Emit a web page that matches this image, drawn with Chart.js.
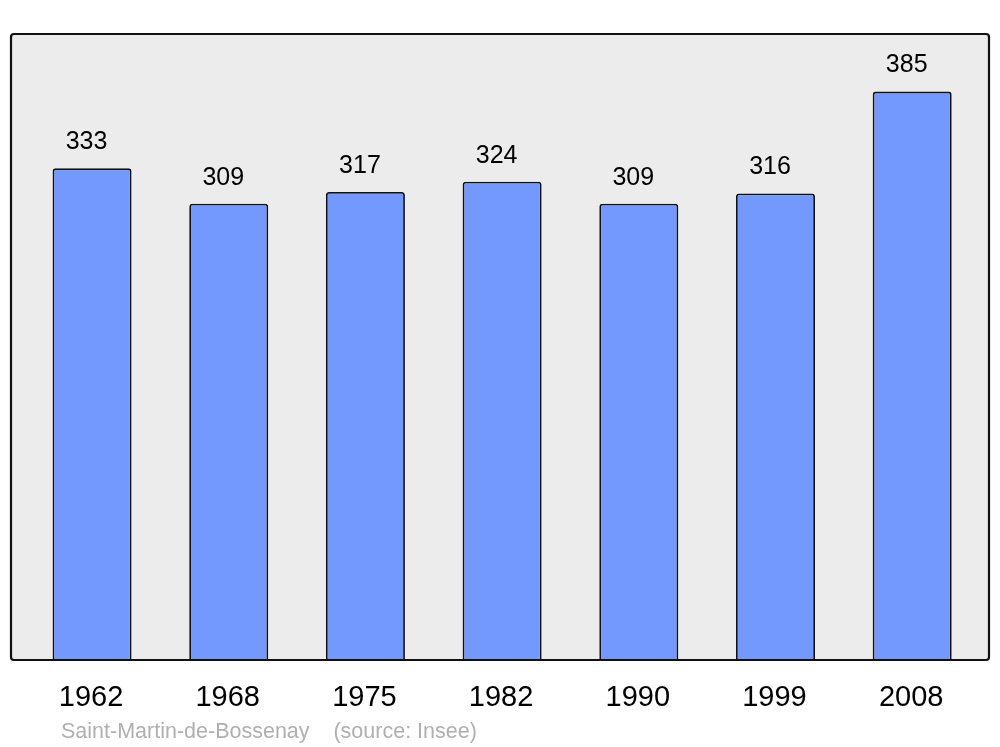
<!DOCTYPE html>
<html>
<head>
<meta charset="utf-8">
<script src="https://cdn.jsdelivr.net/npm/chart.js@4"></script>
<style>
  html, body { margin: 0; padding: 0; background: #fff; }
  #wrap { width: 1000px; height: 747px; position: relative; }
</style>
</head>
<body>
<div id="wrap"><canvas id="popChart" width="1000" height="747"></canvas></div>
<script>
// Population of Saint-Martin-de-Bossenay by census year
const years = ['1962', '1968', '1975', '1982', '1990', '1999', '2008'];
const population = [333, 309, 317, 324, 309, 316, 385];
const caption = 'Saint-Martin-de-Bossenay    (source: Insee)';

const FONT = '"Liberation Sans", Arial, sans-serif';

// grey plot background with a dark rounded frame, drawn behind the bars
const plotFrame = {
  id: 'plotFrame',
  beforeDatasetsDraw(chart) {
    const { ctx, chartArea: a } = chart;
    ctx.save();
    ctx.beginPath();
    ctx.roundRect(a.left, a.top, a.right - a.left, a.bottom - a.top, 3);
    ctx.fillStyle = '#ececec';
    ctx.fill();
    ctx.restore();
  },
  afterDatasetsDraw(chart) {
    const { ctx, chartArea: a } = chart;
    ctx.save();
    ctx.beginPath();
    ctx.roundRect(a.left, a.top, a.right - a.left, a.bottom - a.top, 3);
    ctx.lineWidth = 2.2;
    ctx.strokeStyle = '#111';
    ctx.stroke();
    ctx.restore();
  }
};

// value labels over the bars, year labels under the frame, caption at the bottom
const labels = {
  id: 'labels',
  afterDraw(chart) {
    const { ctx, chartArea: a } = chart;
    const xs = chart.scales.x, ys = chart.scales.y;
    ctx.save();
    ctx.textAlign = 'center';
    ctx.textBaseline = 'middle';
    ctx.fillStyle = '#000';
    population.forEach((v, i) => {
      const x = xs.getPixelForValue(i);
      ctx.font = '25px ' + FONT;
      ctx.fillText(String(v), x - 5.5, ys.getPixelForValue(v) - 26);
      ctx.font = '29px ' + FONT;
      ctx.fillText(years[i], x - 1, a.bottom + 38);
    });
    ctx.textAlign = 'left';
    ctx.font = '21.5px ' + FONT;
    ctx.fillStyle = '#b0b0b0';
    ctx.fillText(caption, 61, a.bottom + 72);
    ctx.restore();
  }
};

new Chart(document.getElementById('popChart'), {
  type: 'bar',
  data: {
    datasets: [{
      data: population.map((v, i) => ({ x: i, y: v })),
      backgroundColor: '#7399ff',
      borderColor: '#111',
      borderWidth: 1.8,
      borderSkipped: 'bottom',
      borderRadius: { topLeft: 3, topRight: 3 },
      categoryPercentage: 1,
      barPercentage: 0.578
    }]
  },
  options: {
    responsive: false,
    animation: false,
    layout: { padding: { left: 11, right: 11, top: 34, bottom: 87 } },
    plugins: { legend: { display: false }, tooltip: { enabled: false } },
    scales: {
      x: {
        type: 'linear',
        display: false,
        offset: false,
        min: -0.593,
        max: 6.562,
        afterBuildTicks: s => { s.ticks = years.map((_, i) => ({ value: i })); }
      },
      y: { display: false, min: 0, max: 424 }
    }
  },
  plugins: [plotFrame, labels]
});
</script>
</body>
</html>
